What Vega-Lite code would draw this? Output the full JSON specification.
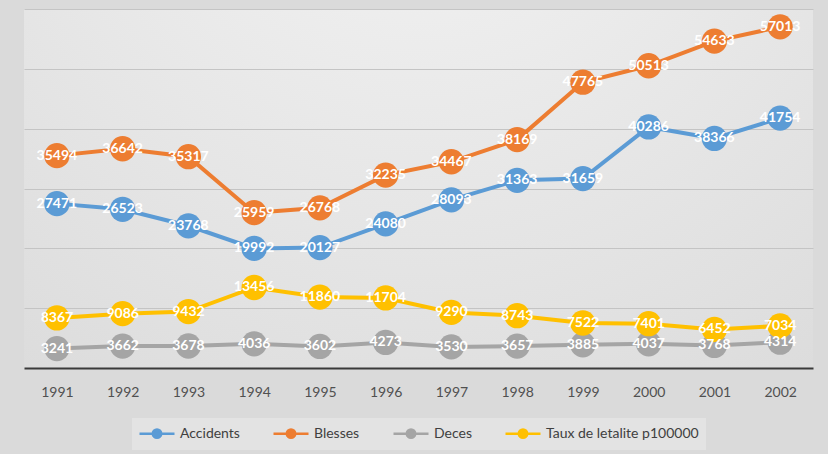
{
  "$schema": "https://vega.github.io/schema/vega-lite/v6.json",
  "width": 789,
  "height": 359,
  "autosize": "none",
  "padding": {"left": 24, "top": 9, "right": 15, "bottom": 86},
  "background": "#dadada",
  "view": {
    "stroke": null,
    "fill": {
      "gradient": "radial",
      "x1": 0.5, "y1": 0.0, "r1": 0.0,
      "x2": 0.5, "y2": 0.0, "r2": 1.1,
      "stops": [
        {"offset": 0, "color": "#f5f5f5"},
        {"offset": 1, "color": "#d6d6d6"}
      ]
    }
  },
  "config": {
    "font": "Lato"
  },
  "data": {
    "values": [
      {"year": "1991", "series": "Accidents", "value": 27471},
      {"year": "1992", "series": "Accidents", "value": 26523},
      {"year": "1993", "series": "Accidents", "value": 23768},
      {"year": "1994", "series": "Accidents", "value": 19992},
      {"year": "1995", "series": "Accidents", "value": 20127},
      {"year": "1996", "series": "Accidents", "value": 24080},
      {"year": "1997", "series": "Accidents", "value": 28093},
      {"year": "1998", "series": "Accidents", "value": 31363},
      {"year": "1999", "series": "Accidents", "value": 31659},
      {"year": "2000", "series": "Accidents", "value": 40286},
      {"year": "2001", "series": "Accidents", "value": 38366},
      {"year": "2002", "series": "Accidents", "value": 41754},
      {"year": "1991", "series": "Blesses", "value": 35494},
      {"year": "1992", "series": "Blesses", "value": 36642},
      {"year": "1993", "series": "Blesses", "value": 35317},
      {"year": "1994", "series": "Blesses", "value": 25959},
      {"year": "1995", "series": "Blesses", "value": 26768},
      {"year": "1996", "series": "Blesses", "value": 32235},
      {"year": "1997", "series": "Blesses", "value": 34467},
      {"year": "1998", "series": "Blesses", "value": 38169},
      {"year": "1999", "series": "Blesses", "value": 47765},
      {"year": "2000", "series": "Blesses", "value": 50513},
      {"year": "2001", "series": "Blesses", "value": 54633},
      {"year": "2002", "series": "Blesses", "value": 57013},
      {"year": "1991", "series": "Deces", "value": 3241},
      {"year": "1992", "series": "Deces", "value": 3662},
      {"year": "1993", "series": "Deces", "value": 3678},
      {"year": "1994", "series": "Deces", "value": 4036},
      {"year": "1995", "series": "Deces", "value": 3602},
      {"year": "1996", "series": "Deces", "value": 4273},
      {"year": "1997", "series": "Deces", "value": 3530},
      {"year": "1998", "series": "Deces", "value": 3657},
      {"year": "1999", "series": "Deces", "value": 3885},
      {"year": "2000", "series": "Deces", "value": 4037},
      {"year": "2001", "series": "Deces", "value": 3768},
      {"year": "2002", "series": "Deces", "value": 4314},
      {"year": "1991", "series": "Taux de letalite p100000", "value": 8367},
      {"year": "1992", "series": "Taux de letalite p100000", "value": 9086},
      {"year": "1993", "series": "Taux de letalite p100000", "value": 9432},
      {"year": "1994", "series": "Taux de letalite p100000", "value": 13456},
      {"year": "1995", "series": "Taux de letalite p100000", "value": 11860},
      {"year": "1996", "series": "Taux de letalite p100000", "value": 11704},
      {"year": "1997", "series": "Taux de letalite p100000", "value": 9290},
      {"year": "1998", "series": "Taux de letalite p100000", "value": 8743},
      {"year": "1999", "series": "Taux de letalite p100000", "value": 7522},
      {"year": "2000", "series": "Taux de letalite p100000", "value": 7401},
      {"year": "2001", "series": "Taux de letalite p100000", "value": 6452},
      {"year": "2002", "series": "Taux de letalite p100000", "value": 7034}
    ]
  },
  "encoding": {
    "x": {
      "field": "year",
      "type": "ordinal",
      "scale": {"type": "point", "padding": 0.5},
      "axis": {
        "title": null,
        "labelAngle": 0,
        "labelFontSize": 14,
        "labelColor": "#505050",
        "labelPadding": 17,
        "ticks": false,
        "domainColor": "#3a3a3a",
        "domainWidth": 2,
        "grid": false
      }
    },
    "y": {
      "field": "value",
      "type": "quantitative",
      "scale": {"domain": [0, 60000], "nice": false},
      "axis": {
        "title": null,
        "labels": false,
        "ticks": false,
        "domain": false,
        "values": [10000, 20000, 30000, 40000, 50000, 60000],
        "grid": true,
        "gridColor": "#c4c4c4",
        "gridWidth": 1.2
      }
    },
    "color": {
      "field": "series",
      "type": "nominal",
      "scale": {
        "domain": ["Accidents", "Blesses", "Deces", "Taux de letalite p100000"],
        "range": ["#5B9BD5", "#ED7D31", "#A5A5A5", "#FFC000"]
      },
      "legend": {
        "title": null,
        "orient": "none",
        "legendX": 108,
        "legendY": 409,
        "direction": "horizontal",
        "fillColor": "#e3e3e3",
        "padding": 7,
        "labelFontSize": 14,
        "labelColor": "#404040",
        "labelOffset": 24,
        "columnPadding": 28,
        "symbolType": "M-2.5,0L2.5,0M-0.6,0A0.6,0.6,0,1,1,0.6,0A0.6,0.6,0,1,1,-0.6,0Z",
        "symbolSize": 196,
        "symbolStrokeWidth": 2.5,
        "encode": {
          "legend": {
            "update": {
              "width": {"value": 559}
            }
          },
          "symbols": {
            "update": {
              "fill": {"scale": "color", "field": "value"},
              "stroke": {"scale": "color", "field": "value"},
              "opacity": {"value": 1},
              "x": {"value": 18}
            }
          }
        }
      }
    }
  },
  "layer": [
    {
      "mark": {"type": "line", "strokeWidth": 4}
    },
    {
      "mark": {"type": "point", "filled": true, "opacity": 1, "size": 640, "shape": "circle"}
    },
    {
      "mark": {
        "type": "text",
        "color": "white",
        "fontWeight": "bold",
        "fontSize": 14,
        "align": "center",
        "baseline": "middle"
      },
      "encoding": {
        "text": {"field": "value", "type": "quantitative", "format": "d"},
        "color": {"value": "white"}
      }
    }
  ]
}
